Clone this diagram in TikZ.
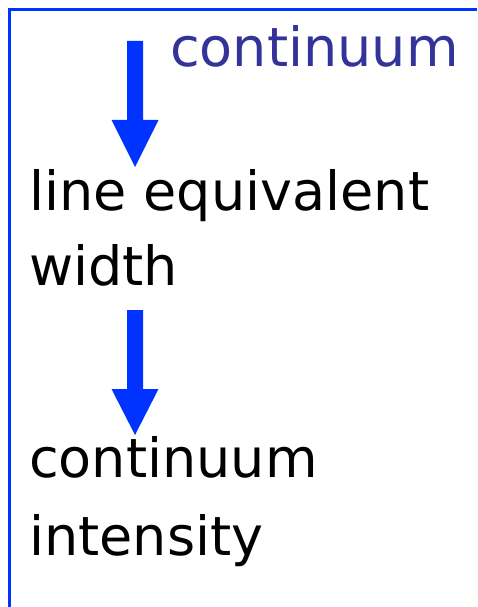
\documentclass[tikz,border=0pt]{standalone}
\usepackage{fontspec}
\setmainfont{DejaVu Sans}
\usetikzlibrary{calc}
\definecolor{arrowblue}{HTML}{0033FF}
\definecolor{textblue}{HTML}{333399}
\tikzset{
  label/.style={inner sep=0pt, anchor=base west, font=\fontsize{54}{60}\selectfont},
  bigarrow/.style={fill=arrowblue, draw=none},
}
\begin{document}
\begin{tikzpicture}[x=1pt,y=-1pt]
\useasboundingbox (0,0) rectangle (477,607);
\fill[white] (0,0) rectangle (477,607);
% frame (left and top sides)
\draw[arrowblue, line width=3.2pt] (9.5,607) -- (9.5,9.5) -- (477,9.5);
% texts
\node[label, text=textblue] (top) at (170,67) {continuum};
\node[label] (l1) at (29,210) {line equivalent};
\node[label] (l2) at (29,285) {width};
\node[label] (l3) at (29,477) {continuum};
\node[label] (l4) at (29,555) {intensity};
% arrows
\coordinate (a1) at (135,41);
\coordinate (t1) at (135,167);
\coordinate (a2) at (135,310);
\coordinate (t2) at (135,435);
\fill[bigarrow] ($(a1)+(-8,0)$) -- ($(a1)+(8,0)$) -- ($(t1)+(8,-47)$) -- ($(t1)+(23.5,-47)$) -- (t1) -- ($(t1)+(-23.5,-47)$) -- ($(t1)+(-8,-47)$) -- cycle;
\fill[bigarrow] ($(a2)+(-8,0)$) -- ($(a2)+(8,0)$) -- ($(t2)+(8,-46)$) -- ($(t2)+(23.5,-46)$) -- (t2) -- ($(t2)+(-23.5,-46)$) -- ($(t2)+(-8,-46)$) -- cycle;
\end{tikzpicture}
\end{document}
